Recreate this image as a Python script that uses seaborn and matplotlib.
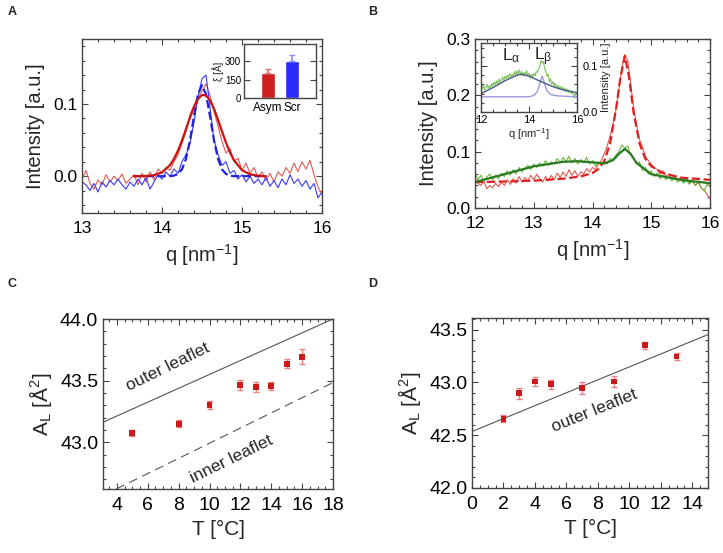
import numpy as np
import matplotlib
matplotlib.use("Agg")
import matplotlib.pyplot as plt
from matplotlib.ticker import AutoMinorLocator, FormatStrFormatter
import seaborn as sns

sns.set_theme(style="ticks")
plt.rcParams['font.family'] = ['Liberation Sans', 'DejaVu Sans']
plt.rcParams['mathtext.default'] = 'regular'

# ---------------- Panel A data ----------------
qA = np.linspace(13.0, 16.0, 61)
redA = [-0.005, 0.008, -0.010, -0.018, -0.005, -0.012, 0.002, -0.008, 0.000, -0.006,
        0.003, -0.010, -0.004, 0.002, -0.012, 0.004, -0.008, 0.006, -0.005, 0.010,
        0.004, 0.012, 0.008, 0.020, 0.030, 0.045, 0.062, 0.085, 0.098, 0.110,
        0.118, 0.128, 0.112, 0.090, 0.070, 0.048, 0.032, 0.038, 0.020, 0.025,
        0.008, 0.018, 0.004, 0.012, -0.002, 0.006, -0.006, 0.004, -0.008, 0.006,
        0.000, 0.012, 0.004, 0.018, 0.006, 0.020, 0.010, 0.022, 0.002, -0.015, -0.025]
blueA = [-0.008, -0.012, -0.020, -0.010, -0.022, -0.008, -0.015, -0.006, -0.012, -0.004,
         -0.012, -0.018, -0.008, -0.014, -0.004, -0.012, -0.002, -0.018, -0.008, 0.002,
         -0.004, 0.006, 0.000, 0.010, 0.004, 0.020, 0.030, 0.045, 0.075, 0.110,
         0.135, 0.140, 0.095, 0.050, 0.030, 0.015, 0.020, 0.004, 0.008, -0.004,
         0.002, -0.008, 0.000, -0.010, -0.004, -0.012, -0.002, -0.014, -0.006, -0.016,
         -0.004, -0.012, 0.002, -0.010, -0.004, -0.014, -0.006, -0.018, -0.010, -0.030, -0.022]
qfitA = [13.65, 13.8, 13.9, 14.0, 14.1, 14.15, 14.2, 14.25, 14.3, 14.35, 14.4, 14.45, 14.5,
         14.55, 14.6, 14.65, 14.7, 14.75, 14.8, 14.85, 14.9, 15.0, 15.1, 15.2, 15.3]
redfitA = [0.0, 0.0003, 0.0014, 0.0053, 0.0153, 0.024, 0.0354, 0.0494, 0.0653, 0.0814, 0.096,
           0.1069, 0.1125, 0.1119, 0.1051, 0.0933, 0.0783, 0.062, 0.0465, 0.0329, 0.022,
           0.0083, 0.0025, 0.0006, 0.0]
bluefitA = [0.0, 0.0, 0.0, 0.0, 0.0, 0.0008, 0.0031, 0.0095, 0.0241, 0.0497, 0.0833, 0.1136,
            0.126, 0.1136, 0.0833, 0.0497, 0.0241, 0.0095, 0.0031, 0.0008, 0.0, 0.0, 0.0, 0.0, 0.0]
bar_cats = ["Asym", "Scr"]
bar_vals = [200, 305]
bar_errs = [36, 48]

# ---------------- Panel B data ----------------
qB = np.linspace(12.0, 16.0, 81)
greenB = [0.062, 0.050, 0.058, 0.048, 0.055, 0.060, 0.050, 0.058, 0.052, 0.062,
          0.056, 0.066, 0.058, 0.068, 0.060, 0.072, 0.064, 0.070, 0.076, 0.068,
          0.078, 0.072, 0.080, 0.074, 0.084, 0.076, 0.082, 0.078, 0.088, 0.080,
          0.090, 0.082, 0.092, 0.080, 0.088, 0.078, 0.086, 0.080, 0.090, 0.078,
          0.084, 0.074, 0.082, 0.076, 0.084, 0.078, 0.088, 0.086, 0.094, 0.100,
          0.112, 0.106, 0.110, 0.094, 0.088, 0.078, 0.082, 0.066, 0.072, 0.060,
          0.066, 0.056, 0.062, 0.052, 0.058, 0.050, 0.056, 0.048, 0.054, 0.046,
          0.052, 0.044, 0.050, 0.042, 0.048, 0.040, 0.046, 0.036, 0.030, 0.042, 0.038]
redB = [0.052, 0.044, 0.040, 0.048, 0.034, 0.040, 0.036, 0.044, 0.038, 0.046,
        0.040, 0.050, 0.042, 0.052, 0.044, 0.056, 0.046, 0.054, 0.048, 0.058,
        0.050, 0.060, 0.052, 0.046, 0.056, 0.048, 0.058, 0.050, 0.062, 0.054,
        0.064, 0.056, 0.068, 0.058, 0.066, 0.056, 0.064, 0.060, 0.070, 0.064,
        0.072, 0.068, 0.078, 0.084, 0.096, 0.110, 0.128, 0.150, 0.175, 0.210,
        0.250, 0.272, 0.262, 0.220, 0.178, 0.148, 0.122, 0.108, 0.092, 0.084,
        0.078, 0.072, 0.068, 0.060, 0.066, 0.056, 0.060, 0.052, 0.058, 0.050,
        0.054, 0.046, 0.052, 0.044, 0.050, 0.040, 0.046, 0.036, 0.032, 0.024, 0.016]
qfitG = [12.0, 12.5, 13.0, 13.5, 13.75, 14.0, 14.2, 14.35, 14.45, 14.55, 14.65, 14.75,
         15.0, 15.5, 16.0]
greenfitB = [0.046, 0.060, 0.074, 0.082, 0.083, 0.081, 0.079, 0.085, 0.096, 0.105, 0.096,
             0.080, 0.060, 0.050, 0.044]
qfitR = [12.0, 12.5, 13.0, 13.5, 13.8, 14.0, 14.1, 14.2, 14.3, 14.4, 14.47, 14.55, 14.62,
         14.7, 14.8, 14.9, 15.0, 15.2, 15.5, 16.0]
redfitB = [0.046, 0.047, 0.0485, 0.052, 0.056, 0.062, 0.069, 0.083, 0.115, 0.175, 0.228,
           0.270, 0.234, 0.169, 0.115, 0.087, 0.074, 0.062, 0.054, 0.050]
qLa = [12.0, 12.5, 13.0, 13.5, 13.7, 14.0, 14.5, 15.0, 15.5, 16.0]
La_fit = [0.040, 0.053, 0.068, 0.080, 0.082, 0.078, 0.066, 0.055, 0.047, 0.042]
qLb = [12.0, 13.0, 14.0, 14.2, 14.35, 14.45, 14.55, 14.65, 14.75, 14.9, 15.2, 16.0]
Lb_fit = [0.033, 0.033, 0.033, 0.036, 0.045, 0.062, 0.078, 0.062, 0.046, 0.038, 0.035, 0.033]

# ---------------- Panel C data ----------------
TC = [5, 8, 10, 12, 13, 14, 15, 16]
AC = [43.073, 43.151, 43.303, 43.465, 43.451, 43.457, 43.638, 43.695]
eC = [0.025, 0.03, 0.03, 0.04, 0.04, 0.035, 0.035, 0.06]
outerC_T = [3.1, 18.0]
outerC_A = [43.162, 44.00]
innerC_T = [3.96, 18.0]
innerC_A = [42.62, 43.484]

# ---------------- Panel D data ----------------
TD = [2, 3, 4, 5, 7, 9, 11, 13]
AD = [42.657, 42.896, 43.009, 42.981, 42.947, 43.009, 43.352, 43.245]
eD = [0.03, 0.05, 0.04, 0.045, 0.055, 0.05, 0.035, 0.03]
outerD_T = [0.0, 15.0]
outerD_A = [42.535, 43.453]

W, H = 723, 553
fig = plt.figure(figsize=(W / 100, H / 100), dpi=100)


def rect(l, t, r, b):
    return [l / W, 1 - b / H, (r - l) / W, (b - t) / H]


def style(ax, xmin=5, ymin=5, ls=12.5, frame="#444444"):
    ax.tick_params(which="both", direction="in", top=True, right=True, colors="#444444",
                   labelcolor="black", labelsize=ls, width=0.8)
    ax.tick_params(which="major", length=4)
    ax.tick_params(which="minor", length=2)
    ax.xaxis.set_minor_locator(AutoMinorLocator(xmin))
    ax.yaxis.set_minor_locator(AutoMinorLocator(ymin))
    for s in ax.spines.values():
        s.set_visible(True)
        s.set_color(frame)
        s.set_linewidth(1.0)


def line(ax, x, y, **kw):
    sns.lineplot(x=x, y=y, ax=ax, estimator=None, sort=False, errorbar=None, **kw)


red_d, red_f = "#e25a54", "#cc1111"
blue_d, blue_f = "#3838ff", "#2020dd"
green_d, green_f = "#6cb845", "#2a7a22"

# ---------- A ----------
axA = fig.add_axes(rect(82, 39, 322, 213))
line(axA, qA, redA, color=red_d, linewidth=0.8)
line(axA, qA, blueA, color=blue_d, linewidth=0.8)
line(axA, qfitA, bluefitA, color=blue_f, linewidth=1.6, linestyle="--")
line(axA, qfitA, redfitA, color=red_f, linewidth=1.6)
axA.set_xlim(13, 16)
axA.set_ylim(-0.051, 0.19)
axA.set_xticks([13, 14, 15, 16])
axA.set_yticks([0.0, 0.1])
axA.yaxis.set_major_formatter(FormatStrFormatter('%.1f'))
style(axA)
axA.tick_params(axis="x", pad=6)
axA.set_xlabel("q [nm$^{-1}$]", fontsize=14.5, labelpad=4)
axA.set_ylabel("Intensity [a.u.]", fontsize=14.5, labelpad=6)

axAi = fig.add_axes(rect(244, 44, 316, 98))
sns.barplot(x=bar_cats, y=bar_vals, hue=bar_cats, palette=["#cc1f1f", "#2b2bff"],
            width=0.6, legend=False, ax=axAi, saturation=1)
for i, c in enumerate(["#e07070", "#8a8aff"]):
    axAi.errorbar([i], [bar_vals[i]], yerr=[[0], [bar_errs[i]]], fmt="none",
                  ecolor=c, elinewidth=1.2, capsize=2)
axAi.set_xlim(-1, 2)
axAi.set_ylim(0, 440)
axAi.set_yticks([0, 150, 300])
style(axAi, ls=7)
axAi.tick_params(axis="x", which="both", top=False, bottom=False, labelsize=8.5, pad=3)
axAi.tick_params(axis="y", which="minor", left=False, right=False)
axAi.tick_params(axis="y", pad=2)
axAi.set_ylabel("ξ [Å]", fontsize=7, labelpad=1)
axAi.set_xlabel("")

# ---------- B ----------
axB = fig.add_axes(rect(475, 39, 710, 208))
line(axB, qB, redB, color=red_d, linewidth=0.8)
line(axB, qB, greenB, color=green_d, linewidth=0.8)
line(axB, qfitR, redfitB, color="#dd2020", linewidth=1.6, linestyle="--")
line(axB, qfitG, greenfitB, color=green_f, linewidth=1.6)
axB.set_xlim(12, 16)
axB.set_ylim(0, 0.3)
axB.set_xticks([12, 13, 14, 15, 16])
axB.set_yticks([0.0, 0.1, 0.2, 0.3])
axB.yaxis.set_major_formatter(FormatStrFormatter('%.1f'))
style(axB)
axB.tick_params(axis="x", pad=6)
axB.set_xlabel("q [nm$^{-1}$]", fontsize=14.5, labelpad=4)
axB.set_ylabel("Intensity [a.u.]", fontsize=14.5, labelpad=6)

axBi = fig.add_axes(rect(481, 43, 577, 112))
line(axBi, qB, greenB, color="#7cc35a", linewidth=0.8)
line(axBi, qLb, Lb_fit, color="#9a9ae0", linewidth=1.0)
line(axBi, qLa, La_fit, color="#4a5a8c", linewidth=1.0)
axBi.set_xlim(12, 16)
axBi.set_ylim(0, 0.15)
axBi.set_xticks([12, 14, 16])
axBi.set_yticks([0.0, 0.1])
axBi.yaxis.set_major_formatter(FormatStrFormatter('%.1f'))
style(axBi, xmin=4, ymin=5, ls=8)
axBi.tick_params(axis="y", labelleft=False, labelright=True, pad=4)
axBi.tick_params(axis="x", pad=2)
axBi.yaxis.set_label_position("right")
axBi.set_ylabel("Intensity [a.u.]", fontsize=8, labelpad=2)
axBi.set_xlabel("q [nm$^{-1}$]", fontsize=8, labelpad=1)
axBi.text(13.25, 0.112, r"L$_\alpha$", fontsize=12.5, ha="center")
axBi.text(14.6, 0.112, r"L$_\beta$", fontsize=12.5, ha="center")

# ---------- C ----------
axC = fig.add_axes(rect(103, 319, 333, 489))
line(axC, outerC_T, outerC_A, color="#555555", linewidth=0.8)
line(axC, innerC_T, innerC_A, color="#555555", linewidth=0.8, linestyle=(0, (8, 5)))
axC.errorbar(TC, AC, yerr=eC, fmt="none", ecolor="#e88080", elinewidth=1.0, capsize=2.5)
sns.scatterplot(x=TC, y=AC, ax=axC, marker="s", s=18, color="#cc1a1a", edgecolor="none", zorder=5)
axC.set_xlim(3.1, 18)
axC.set_ylim(42.62, 44.0)
axC.set_xticks([4, 6, 8, 10, 12, 14, 16, 18])
axC.set_yticks([43.0, 43.5, 44.0])
axC.yaxis.set_major_formatter(FormatStrFormatter('%.1f'))
style(axC, xmin=4, ymin=5, ls=14)
axC.tick_params(axis="x", pad=6)
axC.set_xlabel("T [°C]", fontsize=15, labelpad=4)
axC.set_ylabel("A$_L$ [Å$^2$]", fontsize=15, labelpad=4)
axC.text(7.3, 43.61, "outer leaflet", fontsize=12.5, rotation=26, ha="center", va="center",
         rotation_mode="anchor")
axC.text(11.4, 42.86, "inner leaflet", fontsize=12.5, rotation=26, ha="center", va="center",
         rotation_mode="anchor")

# ---------- D ----------
axD = fig.add_axes(rect(472, 318, 708, 488))
line(axD, outerD_T, outerD_A, color="#555555", linewidth=0.8)
axD.errorbar(TD, AD, yerr=eD, fmt="none", ecolor="#e88080", elinewidth=1.0, capsize=2.5)
sns.scatterplot(x=TD, y=AD, ax=axD, marker="s", s=18, color="#cc1a1a", edgecolor="none", zorder=5)
axD.set_xlim(0, 15)
axD.set_ylim(42.0, 43.61)
axD.set_xticks([0, 2, 4, 6, 8, 10, 12, 14])
axD.set_yticks([42.0, 42.5, 43.0, 43.5])
axD.yaxis.set_major_formatter(FormatStrFormatter('%.1f'))
style(axD, xmin=4, ymin=5, ls=14)
axD.tick_params(axis="x", pad=6)
axD.set_xlabel("T [°C]", fontsize=15, labelpad=4)
axD.set_ylabel("A$_L$ [Å$^2$]", fontsize=15, labelpad=4)
axD.text(7.8, 42.73, "outer leaflet", fontsize=12.5, rotation=22, ha="center", va="center",
         rotation_mode="anchor")

for lab, x, y in [("A", 8, 12), ("B", 368, 12), ("C", 8, 284), ("D", 368, 284)]:
    fig.text(x / W, 1 - y / H, lab, fontsize=9, fontweight="bold", ha="left", va="center")

fig.savefig("out.png", dpi=100)
